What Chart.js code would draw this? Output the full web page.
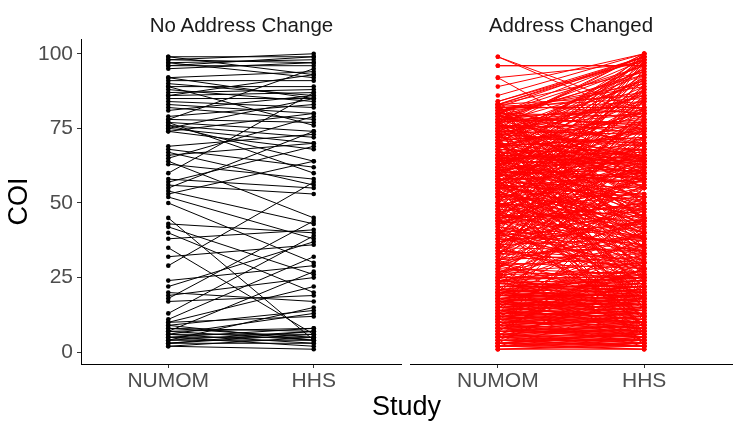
<!DOCTYPE html>
<html><head><meta charset="utf-8">
<script src="https://cdn.jsdelivr.net/npm/chart.js@4"></script>
<style>
html,body{margin:0;padding:0;background:#fff;width:740px;height:431px;overflow:hidden}
.w{position:absolute;top:0;height:431px}
.txt{position:absolute;font-family:'Liberation Sans',Arial,sans-serif;text-align:center;white-space:nowrap}
.strip{font-size:20.5px;line-height:21px;color:#1A1A1A;top:14px}
</style></head>
<body>
<div class="w" style="left:0;width:405px"><canvas id="c1"></canvas></div>
<div class="w" style="left:405px;width:335px"><canvas id="c2"></canvas></div>
<div class="txt strip" style="left:81px;width:321px">No Address Change</div>
<div class="txt strip" style="left:410px;width:322px">Address Changed</div>
<div class="txt" style="left:81px;width:651px;top:393px;font-size:27px;line-height:27px;color:#000">Study</div>
<script>
const FONT = "'Liberation Sans', Arial, sans-serif";
const studies = ['NUMOM', 'HHS'];
const yTicks = [0, 25, 50, 75, 100];
const panelTitles = ['No Address Change', 'Address Changed'];

const numomNoChange = [
99,98,98,97,96,96,95,99,97,92,
91,90,92,89,88,87,86,85,89,86,
84,83,82,81,79,78,77,76,75,74,
78,77,76,75,74,69,68,67,66,65,
64,63,60,58,57,56,55,54,53,52,
50,45,43,42,40,38,35,32,29,24,
22,20,19,18,17,13,11,10,9,8,
8,7,7,6,6,5,5,4,4,3,
3,2,2,6,9,10,4,7,5,3];
const hhsNoChange = [
99,100,97,98,99,96,97,93,92,94,
91,86,85,89,84,88,87,85,76,93,
82,80,78,86,83,77,74,72,70,80,
95,60,64,85,68,73,62,56,70,79,
45,58,87,55,69,53,74,43,64,38,
30,4,40,26,20,41,6,36,57,29,
37,17,25,44,19,39,32,22,14,5,
7,27,4,6,3,8,5,4,7,6,
3,5,1,13,4,12,15,8,2,7];

const numomChanged = [
1,2,2,3,3,4,4,5,5,6,
6,7,7,8,8,9,9,10,10,11,
11,12,12,13,13,14,14,15,15,16,
16,17,17,18,18,19,19,20,20,21,
21,22,22,23,23,24,24,25,25,2,
3,4,5,6,7,8,9,10,11,12,
13,14,15,16,17,18,19,20,21,22,
1,2,3,4,5,6,7,8,9,10,
11,12,13,14,15,16,17,18,19,20,
2,3,5,6,8,9,11,12,14,15,
17,18,20,21,23,24,1,4,7,10,
13,16,19,22,25,3,6,9,12,15,
18,21,24,2,5,8,11,14,17,20,
2,4,6,8,10,12,14,16,18,20,
22,24,26,28,30,3,5,7,9,11,
13,15,17,19,21,23,25,27,29,31,
26,27,28,29,30,31,32,33,34,35,
33,36,38,40,42,44,46,48,50,52,
54,56,58,60,62,64,66,68,70,72,
74,76,78,80,82,35,37,39,41,43,
45,47,49,51,53,55,57,59,61,63,
65,67,69,71,73,75,77,79,81,83,
36,39,42,45,48,51,54,57,60,63,
38,40,44,46,50,52,56,58,62,64,
37,41,43,47,49,53,55,59,61,65,
30,35,40,45,50,55,60,65,70,75,
80,84,89,92,96,99,32,42,52,62,
72,78,82,86,83,12,18,24,28,38,
48,58,68,76,84,44,54,64,74,79,
20,25,34,46,57,67,71,77,81,83,
55,57,59,60,62,63,64,66,67,68,
69,70,71,72,73,74,75,76,77,78,
79,80,81,82,83,70,66,60,58,56,
64,65,72,74,76,78,80,83,62,68,
73,75,79,82,55,58,61,65,69,71,
50,55,60,65,70,75,80,83,84,82,
92,99,96,53,58,63,68,73,78,82,
47,52,57,62,67,72,77,81,45,40,
26,28,31,33,35,38,41,44,47,50,
53,56,59,62,65,68,71,74,77,80,
5,8,11,14,17,20,23,26,29,32,
35,38,41,44,47,50,53,56,59,62,
65,68,71,74,77,80,83,36,40,46,
27,30,33,37,40,43,46,49,52,55,
58,61,64,67,70,73,76,79,82,57,
60,63,66,69,72,75,78,81,83,61,
28,32,36,40,44,48,52,56,60,64,
24,27,31,34,38,42,46,50,54,58,
62,66,70,74,78,82,7,13,19,25,
45,49,53,57,61,65,69,73,77,81,
30,34,39,43,48,52,57,61,66,70,
10,15,20,25,30,35,40,45,50,55,
60,65,70,75,80,33,44,55,66,77];
const hhsChanged = [
2,1,3,3,5,4,2,6,4,5,
8,6,9,7,10,8,11,9,12,10,
13,11,14,12,15,13,16,14,17,15,
18,16,19,17,20,18,21,19,22,20,
23,21,24,22,25,23,26,24,27,4,
1,6,3,4,9,5,7,13,8,10,
10,17,12,19,14,21,16,23,18,25,
3,2,7,2,8,3,5,12,6,8,
14,9,16,11,18,13,20,15,22,17,
5,2,2,9,6,12,7,15,10,19,
13,22,16,25,19,20,1,4,7,10,
13,16,19,22,25,6,2,5,8,11,
14,17,20,7,10,4,15,18,21,24,
15,22,18,28,3,30,5,33,6,8,
4,9,12,7,15,26,20,32,24,30,
2,35,4,38,7,40,10,3,18,6,
27,30,26,32,28,33,29,35,31,34,
60,18,55,12,65,25,70,20,38,8,
30,45,15,40,22,50,35,28,45,20,
40,55,30,50,38,75,48,80,28,58,
78,33,62,72,44,82,25,68,52,75,
38,60,58,66,48,62,45,70,55,64,
38,43,36,47,42,53,40,38,49,56,
38,46,50,38,45,48,52,60,58,68,
44,36,48,55,52,46,60,63,65,60,
98,95,99,97,100,96,99,98,97,100,
99,98,100,97,96,81,90,92,94,93,
95,96,99,100,98,85,62,78,70,88,
91,97,99,100,99,86,89,87,90,93,
55,68,82,84,88,92,86,91,89,94,
58,55,62,61,64,66,63,65,68,66,
72,68,74,70,76,73,77,75,80,77,
81,79,84,82,86,64,64,64,57,53,
70,64,65,78,71,83,75,80,58,63,
69,80,76,85,51,59,57,67,72,75,
12,5,22,15,30,10,35,25,45,60,
65,78,96,28,8,35,18,42,50,32,
3,18,40,2,26,6,14,58,9,24,
45,62,50,74,58,66,80,70,85,77,
88,81,92,85,95,89,97,93,98,96,
42,55,48,66,38,72,52,60,44,80,
22,30,12,35,18,27,9,33,16,24,
28,41,33,19,55,44,37,64,72,68,
36,40,30,42,34,50,44,40,56,47,
50,66,55,62,59,70,65,73,69,78,
82,75,88,79,91,84,94,87,99,100,
52,56,60,58,63,67,61,72,74,81,
30,25,39,28,33,31,37,43,35,41,
47,52,42,60,64,58,33,28,45,50,
58,64,70,76,68,74,80,86,82,90,
70,78,85,62,93,75,84,98,77,95,
28,36,26,40,20,44,26,49,32,38,
43,48,53,45,60,56,39,66,44,57];

function buildDatasets(n, h, color) {
  const line = [], pts = [];
  for (let i = 0; i < n.length; i++) {
    line.push({x: 1, y: n[i]}, {x: 2, y: h[i]}, {x: 1.5, y: null});
    pts.push({x: 1, y: n[i]}, {x: 2, y: h[i]});
  }
  return [
    {data: pts, showLine: false, pointRadius: 2.3, pointBackgroundColor: color, pointBorderColor: color, pointBorderWidth: 0, order: 0},
    {data: line, showLine: true, spanGaps: false, borderColor: color, borderWidth: 1, pointRadius: 0, order: 1}
  ];
}

const tickGrid = {display: true, drawOnChartArea: false, drawTicks: true, tickLength: 4, color: '#333333', lineWidth: 1};
const axisBorder = {display: true, color: '#000000', width: 1};

function makeOptions(showY, pad) {
  return {
    responsive: true, maintainAspectRatio: false, animation: false, devicePixelRatio: 1, events: [],
    layout: {padding: pad},
    plugins: {legend: {display: false}, tooltip: {enabled: false}, title: {display: false}},
    scales: {
      x: {
        type: 'linear', min: 0.4, max: 2.6,
        afterBuildTicks: s => { s.ticks = [1, 2].map(v => ({value: v})); },
        afterFit: s => { s.height = 67; },
        ticks: {callback: v => studies[v - 1], color: '#4D4D4D', font: {family: FONT, size: 21}, padding: 1, maxRotation: 0, autoSkip: false},
        grid: tickGrid, border: axisBorder
      },
      y: {
        display: showY, min: -3.95, max: 104.95,
        afterBuildTicks: s => { s.ticks = yTicks.map(v => ({value: v})); },
        afterFit: s => { if (showY) s.width = 81; },
        ticks: {color: '#4D4D4D', font: {family: FONT, size: 21}, padding: 4},
        grid: tickGrid, border: axisBorder,
        title: {display: true, text: 'COI', color: '#000000', font: {family: FONT, size: 27}, padding: {top: 3, bottom: 0}}
      }
    }
  };
}

new Chart(document.getElementById('c1'), {
  type: 'scatter',
  data: {datasets: buildDatasets(numomNoChange, hhsNoChange, '#000000')},
  options: makeOptions(true, {left: 0, right: 3, top: 39, bottom: 0})
});
new Chart(document.getElementById('c2'), {
  type: 'scatter',
  data: {datasets: buildDatasets(numomChanged, hhsChanged, '#FF0000')},
  options: makeOptions(false, {left: 5, right: 8, top: 39, bottom: 0})
});
</script>
</body></html>
